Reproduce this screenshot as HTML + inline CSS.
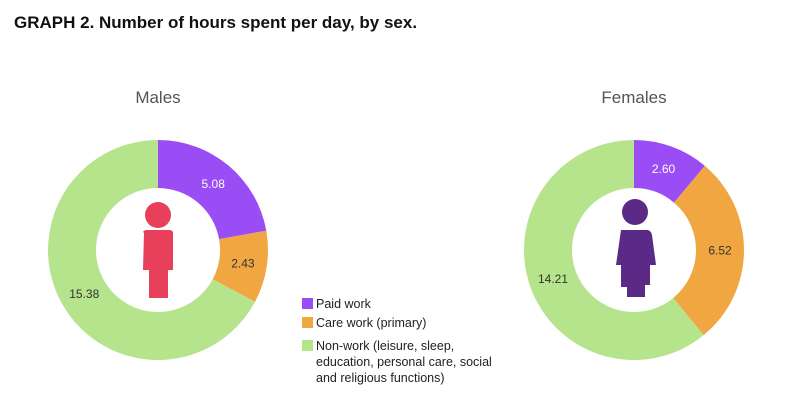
<!DOCTYPE html>
<html><head><meta charset="utf-8"><style>
html,body{margin:0;padding:0;background:#fff;width:800px;height:417px;overflow:hidden;font-family:"Liberation Sans",sans-serif}
</style></head><body>
<svg width="800" height="417" viewBox="0 0 800 417">
<text x="14" y="28" font-size="17" font-weight="bold" fill="#111">GRAPH 2. Number of hours spent per day, by sex.</text>
<text x="158" y="103" text-anchor="middle" font-size="17" fill="#555">Males</text>
<text x="634" y="103" text-anchor="middle" font-size="17" fill="#555">Females</text>
<g id="donuts"></g>
<g id="icons">
<g fill="#e8405a">
<circle cx="158" cy="215" r="13"/>
<path d="M144 233 Q142 231 146 230 L170 230 Q174 231 173 234 L173 270 L168 270 L168 298 L149 298 L149 270 L143 270 Z"/>
</g>
<g fill="#5b2a86">
<circle cx="635" cy="212" r="13"/>
<path d="M621 230 L648 230 Q651 231 652 235 L656 265 L650 265 L650 285 L645 285 L645 297 L627 297 L627 287 L621 287 L621 265 L616 265 Z"/>
</g>
</g>
<g font-size="12.5" fill="#222">
<g><rect x="302" y="298" width="11" height="11" fill="#9a4cf5"/><text x="316" y="308">Paid work</text></g>
<g><rect x="302" y="317" width="11" height="11" fill="#f0a742"/><text x="316" y="327">Care work (primary)</text></g>
<g><rect x="302" y="340" width="11" height="11" fill="#b5e48c"/><text x="316" y="350">Non-work (leisure, sleep,</text><text x="316" y="366">education, personal care, social</text><text x="316" y="382">and religious functions)</text></g>
</g>
</svg>
<script>
const categories = ["paid", "care", "nonwork"];
const maleValues = [5.08, 2.43, 15.38];
const femaleValues = [2.60, 6.52, 14.21];
const colors = ["#9a4cf5", "#f0a742", "#b5e48c"];
const labelColors = ["#fff", "#333", "#333"];
const NS = "http://www.w3.org/2000/svg";
const g = document.getElementById("donuts");
function pt(cx, cy, r, a){ return [cx + r*Math.sin(a), cy - r*Math.cos(a)]; }
function drawDonut(cx, cy, vals, who){
  const R = 110, r = 62;
  const total = vals.reduce((s,v)=>s+v,0);
  let a0 = 0;
  vals.forEach((v,i)=>{
    const a1 = a0 + v/total*2*Math.PI;
    const large = (a1-a0) > Math.PI ? 1 : 0;
    const [x0,y0]=pt(cx,cy,R,a0),[x1,y1]=pt(cx,cy,R,a1),[x2,y2]=pt(cx,cy,r,a1),[x3,y3]=pt(cx,cy,r,a0);
    const p = document.createElementNS(NS,"path");
    p.setAttribute("d",`M${x0} ${y0} A${R} ${R} 0 ${large} 1 ${x1} ${y1} L${x2} ${y2} A${r} ${r} 0 ${large} 0 ${x3} ${y3} Z`);
    p.setAttribute("fill",colors[i]);
    
    
    g.appendChild(p);
    const am = (a0+a1)/2;
    const [lx,ly]=pt(cx,cy,86,am);
    const t = document.createElementNS(NS,"text");
    t.setAttribute("x",lx); t.setAttribute("y",ly+4);
    t.setAttribute("text-anchor","middle");
    t.setAttribute("font-size","12");
    t.setAttribute("fill",labelColors[i]);
    t.textContent = v.toFixed(2);
    
    
    g.appendChild(t);
    a0 = a1;
  });
}
drawDonut(158, 250, maleValues, "male");
drawDonut(634, 250, femaleValues, "female");
</script>
</body></html>
